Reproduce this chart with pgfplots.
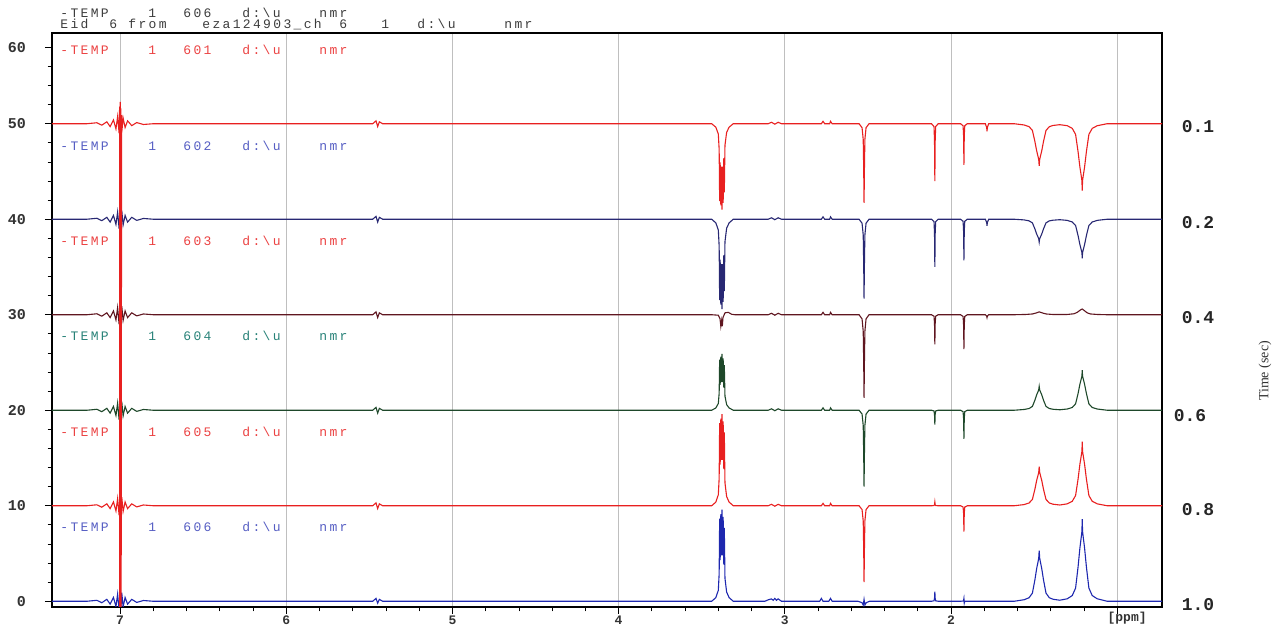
\documentclass[border=0pt]{standalone}
\usepackage{pgfplots}
\pgfplotsset{compat=1.18}
\usepackage{fontspec}
\setmainfont{Liberation Serif}
\setmonofont{Liberation Mono}
\newfontfamily\nmrfont[LetterSpace=18]{Liberation Mono}
\definecolor{cRed}{RGB}{232,32,32}
\definecolor{cNavy}{RGB}{40,40,115}
\definecolor{cMaroon}{RGB}{95,22,32}
\definecolor{cGreen}{RGB}{30,72,42}
\definecolor{cBlue}{RGB}{30,40,175}
\definecolor{cTeal}{RGB}{40,130,120}
\definecolor{cHead}{RGB}{60,60,60}
\newcommand{\lab}[1]{\makebox[44pt][l]{-TEMP}\makebox[17.5pt][l]{1}\makebox[29.5pt][l]{#1}\makebox[38.5pt][l]{d:\textbackslash u}nmr}
\newcommand{\ppmlab}{\raisebox{2.2pt}[\height][0pt]{\hspace*{10pt}[ppm]}}
\begin{document}
\begin{tikzpicture}
\begin{axis}[
  at={(0,0)}, anchor=south west,
  width=555pt, height=287pt, scale only axis,
  xmin=0.73, xmax=7.41, x dir=reverse,
  ymin=-0.6, ymax=59.5,
  clip mode=individual,
  axis line style={black, line width=0.6pt},
  tick pos=left, tick align=outside,
  major tick length=3.5pt, minor tick length=2.2pt,
  xtick={1,2,3,4,5,6,7}, xticklabels={\ppmlab,2,3,4,5,6,7},
  minor x tick num=4,
  ytick={0,10,20,30,40,50,58}, yticklabels={0,10,20,30,40,50,60},
  minor ytick={2,4,...,56},
  xmajorgrids=true,
  grid style={gray!50, line width=0.4pt},
  ticklabel style={font=\ttfamily\bfseries\fontsize{7.5}{8}\selectfont, text=black!80},
  xticklabel style={font=\ttfamily\bfseries\fontsize{6.5}{7}\selectfont, inner sep=0.8pt},
  yticklabel style={xshift=-6pt},
  every tick/.style={black, line width=0.4pt},
  every axis plot/.append style={line width=0.55pt, mark=none},
]
% row 1.0 (606) blue
\addplot[color=cBlue] coordinates {
(7.41,0) (7.20,0) (7.14,0.1) (7.11,-0.15) (7.08,0.2) (7.06,-0.3) (7.04,0.4) (7.025,-0.55) (7.015,0.75) (7.006,-1.0) (7.0,1.5) (6.997,-1.4) (6.99,0.9) (6.982,-0.6) (6.97,0.4) (6.955,-0.3) (6.93,0.2) (6.90,-0.12) (6.86,0.08) (6.80,0)
(5.48,0) (5.46,0.3) (5.45,-0.2) (5.44,0.2) (5.42,0)
(3.44,0) (3.415,0.38) (3.40,1.15) (3.395,2.88) (3.392,8.64) (3.389,4.32) (3.385,9.12) (3.382,4.8) (3.378,9.6) (3.374,4.8) (3.371,8.83) (3.367,3.84) (3.364,7.68) (3.36,2.4) (3.35,0.96) (3.335,0.38) (3.31,0)
(3.12,0) (3.10,0.15) (3.08,0.25) (3.07,0.1) (3.06,0.3) (3.05,0.1) (3.04,0.25) (3.02,0) (2.79,0) (2.78,0.3) (2.77,0) (2.735,0) (2.725,0.3) (2.715,0)
(2.56,0) (2.535,-0.15) (2.528,-0.4) (2.523,0.2) (2.518,-0.4) (2.51,-0.15) (2.49,0)
(2.117,0) (2.102,0.05) (2.099,0.3) (2.097,1.0) (2.095,0.3) (2.092,0.05) (2.077,0)
(1.942,0) (1.927,0.02) (1.924,0.1) (1.922,0.3) (1.920,-0.2) (1.917,0) (1.902,0)
(1.62,0) (1.56,0.16) (1.53,0.37) (1.51,0.85) (1.495,2.23) (1.484,3.45) (1.476,4.13) (1.472,4.51) (1.469,5.3) (1.466,4.51) (1.462,4.13) (1.454,3.45) (1.443,2.23) (1.428,0.85) (1.408,0.37) (1.385,0.21) (1.345,0.11)
(1.30,0.26) (1.27,0.6) (1.25,1.38) (1.235,3.61) (1.224,5.59) (1.216,6.71) (1.212,7.31) (1.21,8.6) (1.208,7.31) (1.204,6.71) (1.196,5.59) (1.185,3.61) (1.17,1.38) (1.15,0.6) (1.12,0.26) (1.06,0) (0.73,0)
};
% row 0.8 (605) red
\addplot[color=cRed] coordinates {
(7.41,10) (7.20,10) (7.14,10.1) (7.11,9.85) (7.08,10.2) (7.06,9.7) (7.04,10.4) (7.025,9.45) (7.015,10.75) (7.006,9.0) (7.0,11.5) (6.997,8.6) (6.99,10.9) (6.982,9.4) (6.97,10.4) (6.955,9.7) (6.93,10.2) (6.90,9.88) (6.86,10.08) (6.80,10)
(5.48,10) (5.46,10.3) (5.45,9.7) (5.44,10.2) (5.42,10)
(3.44,10) (3.415,10.38) (3.40,11.15) (3.395,12.88) (3.392,18.64) (3.389,14.32) (3.385,19.12) (3.382,14.8) (3.378,19.6) (3.374,14.8) (3.371,18.83) (3.367,13.84) (3.364,17.68) (3.36,12.4) (3.35,10.96) (3.335,10.38) (3.31,10)
(3.10,10) (3.08,10.15) (3.06,9.95) (3.04,10.15) (3.02,10) (2.78,10) (2.77,10.25) (2.76,10) (2.73,10) (2.725,10.25) (2.715,10)
(2.553,10) (2.535,9.6) (2.528,8.4) (2.525,5.2) (2.523,2) (2.521,5.2) (2.518,8.4) (2.511,9.6) (2.493,10)
(2.117,10) (2.102,10.02) (2.099,10.12) (2.097,10.4) (2.095,10.12) (2.092,10.02) (2.077,10)
(1.942,10) (1.927,9.865) (1.924,9.19) (1.922,7.3) (1.920,9.19) (1.917,9.865) (1.902,10)
(1.62,10) (1.56,10.12) (1.53,10.29) (1.51,10.66) (1.495,11.72) (1.484,12.67) (1.476,13.2) (1.472,13.49) (1.469,14.1) (1.466,13.49) (1.462,13.2) (1.454,12.67) (1.443,11.72) (1.428,10.66) (1.408,10.29) (1.385,10.16) (1.345,10.08)
(1.30,10.2) (1.27,10.47) (1.25,11.07) (1.235,12.81) (1.224,14.36) (1.216,15.23) (1.212,15.7) (1.21,16.7) (1.208,15.7) (1.204,15.23) (1.196,14.36) (1.185,12.81) (1.17,11.07) (1.15,10.47) (1.12,10.2) (1.06,10) (0.73,10)
};
% row 0.6 (604) dark green
\addplot[color=cGreen] coordinates {
(7.41,20) (7.20,20) (7.14,20.1) (7.11,19.85) (7.08,20.2) (7.06,19.7) (7.04,20.4) (7.025,19.45) (7.015,20.75) (7.006,19.0) (7.0,21.5) (6.997,18.6) (6.99,20.9) (6.982,19.4) (6.97,20.4) (6.955,19.7) (6.93,20.2) (6.90,19.88) (6.86,20.08) (6.80,20)
(5.48,20) (5.46,20.3) (5.45,19.7) (5.44,20.2) (5.42,20)
(3.44,20) (3.415,20.24) (3.40,20.71) (3.395,21.77) (3.392,25.31) (3.389,22.66) (3.385,25.61) (3.382,22.95) (3.378,25.9) (3.374,22.95) (3.371,25.43) (3.367,22.36) (3.364,24.72) (3.36,21.48) (3.35,20.59) (3.335,20.24) (3.31,20)
(3.10,20) (3.08,20.15) (3.06,19.95) (3.04,20.15) (3.02,20) (2.78,20) (2.77,20.25) (2.76,20) (2.73,20) (2.725,20.25) (2.715,20)
(2.553,20) (2.535,19.6) (2.528,18.4) (2.525,15.2) (2.523,12) (2.521,15.2) (2.518,18.4) (2.511,19.6) (2.493,20)
(2.117,20) (2.102,19.925) (2.099,19.55) (2.097,18.5) (2.095,19.55) (2.092,19.925) (2.077,20)
(1.942,20) (1.927,19.85) (1.924,19.1) (1.922,17) (1.920,19.1) (1.917,19.85) (1.902,20)
(1.62,20) (1.56,20.08) (1.53,20.18) (1.51,20.4) (1.495,21.05) (1.484,21.63) (1.476,21.95) (1.472,22.13) (1.469,22.5) (1.466,22.13) (1.462,21.95) (1.454,21.63) (1.443,21.05) (1.428,20.4) (1.408,20.18) (1.385,20.1) (1.345,20.05)
(1.30,20.13) (1.27,20.29) (1.25,20.67) (1.235,21.76) (1.224,22.73) (1.216,23.28) (1.212,23.57) (1.21,24.2) (1.208,23.57) (1.204,23.28) (1.196,22.73) (1.185,21.76) (1.17,20.67) (1.15,20.29) (1.12,20.13) (1.06,20) (0.73,20)
};
% row 0.4 (603) dark maroon
\addplot[color=cMaroon] coordinates {
(7.41,30) (7.20,30) (7.14,30.1) (7.11,29.85) (7.08,30.2) (7.06,29.7) (7.04,30.4) (7.025,29.45) (7.015,30.75) (7.006,29.0) (7.0,31.5) (6.997,28.6) (6.99,30.9) (6.982,29.4) (6.97,30.4) (6.955,29.7) (6.93,30.2) (6.90,29.88) (6.86,30.08) (6.80,30)
(5.48,30) (5.46,30.3) (5.45,29.7) (5.44,30.2) (5.42,30)
(3.44,30) (3.40,29.95) (3.39,29.6) (3.385,28.8) (3.38,29.4) (3.376,28.8) (3.372,29.7) (3.36,30.2) (3.34,30.25) (3.32,30.05) (3.30,30)
(3.10,30) (3.08,30.15) (3.06,29.95) (3.04,30.15) (3.02,30) (2.78,30) (2.77,30.25) (2.76,30) (2.73,30) (2.725,30.25) (2.715,30)
(2.553,30) (2.535,29.565) (2.528,28.26) (2.525,24.78) (2.523,21.3) (2.521,24.78) (2.518,28.26) (2.511,29.565) (2.493,30)
(2.117,30) (2.102,29.845) (2.099,29.07) (2.097,26.9) (2.095,29.07) (2.092,29.845) (2.077,30)
(1.942,30) (1.927,29.82) (1.924,28.92) (1.922,26.4) (1.920,28.92) (1.917,29.82) (1.902,30)
(1.793,30) (1.785,29.85) (1.783,29.7) (1.781,29.85) (1.773,30)
(1.62,30) (1.55,30.03) (1.51,30.08) (1.49,30.17) (1.475,30.26) (1.469,30.3) (1.462,30.26) (1.447,30.17) (1.427,30.08) (1.39,30.03) (1.345,30.02)
(1.30,30.03) (1.26,30.1) (1.24,30.25) (1.225,30.45) (1.215,30.56) (1.21,30.6) (1.204,30.52) (1.195,30.4) (1.18,30.2) (1.16,30.08) (1.12,30.03) (1.06,30) (0.73,30)
};
% row 0.2 (602) navy
\addplot[color=cNavy] coordinates {
(7.41,40) (7.20,40) (7.14,40.1) (7.11,39.85) (7.08,40.2) (7.06,39.7) (7.04,40.4) (7.025,39.45) (7.015,40.75) (7.006,39.0) (7.0,41.5) (6.997,38.6) (6.99,40.9) (6.982,39.4) (6.97,40.4) (6.955,39.7) (6.93,40.2) (6.90,39.88) (6.86,40.08) (6.80,40)
(5.48,40) (5.46,40.3) (5.45,39.7) (5.44,40.2) (5.42,40)
(3.44,40) (3.415,39.62) (3.40,38.87) (3.395,37.18) (3.392,31.54) (3.389,35.77) (3.385,31.07) (3.382,35.3) (3.378,30.6) (3.374,35.3) (3.371,31.35) (3.367,36.24) (3.364,32.48) (3.36,37.65) (3.35,39.06) (3.335,39.62) (3.31,40)
(3.10,40) (3.08,40.15) (3.06,39.95) (3.04,40.15) (3.02,40) (2.78,40) (2.77,40.25) (2.76,40) (2.73,40) (2.725,40.25) (2.715,40)
(2.553,40) (2.535,39.585) (2.528,38.34) (2.525,35.02) (2.523,31.7) (2.521,35.02) (2.518,38.34) (2.511,39.585) (2.493,40)
(2.117,40) (2.102,39.75) (2.099,38.5) (2.097,35) (2.095,38.5) (2.092,39.75) (2.077,40)
(1.942,40) (1.927,39.785) (1.924,38.71) (1.922,35.7) (1.920,38.71) (1.917,39.785) (1.902,40)
(1.793,40) (1.785,39.65) (1.783,39.3) (1.781,39.65) (1.773,40)
(1.62,40) (1.56,39.93) (1.53,39.83) (1.51,39.62) (1.495,38.99) (1.484,38.44) (1.476,38.13) (1.472,37.96) (1.469,37.6) (1.466,37.96) (1.462,38.13) (1.454,38.44) (1.443,38.99) (1.428,39.62) (1.408,39.83) (1.385,39.9) (1.345,39.95)
(1.30,39.88) (1.27,39.71) (1.25,39.34) (1.235,38.28) (1.224,37.34) (1.216,36.8) (1.212,36.52) (1.21,35.9) (1.208,36.52) (1.204,36.8) (1.196,37.34) (1.185,38.28) (1.17,39.34) (1.15,39.71) (1.12,39.88) (1.06,40) (0.73,40)
};
% row 0.1 (601) red
\addplot[color=cRed] coordinates {
(7.41,50) (7.20,50) (7.14,50.1) (7.11,49.85) (7.08,50.2) (7.06,49.7) (7.04,50.4) (7.025,49.45) (7.015,50.75) (7.006,49.0) (7.003,51.8) (7.002,-5) (6.999,52.3) (6.998,-5) (6.995,51.6) (6.994,-5) (6.991,50.9) (6.99,49.1) (6.982,50.6) (6.97,49.6) (6.955,50.3) (6.93,49.8) (6.90,50.12) (6.86,49.92) (6.80,50)
(5.48,50) (5.46,50.3) (5.45,49.7) (5.44,50.2) (5.42,50)
(3.44,50) (3.415,49.64) (3.40,48.92) (3.395,47.3) (3.392,41.9) (3.389,45.95) (3.385,41.45) (3.382,45.5) (3.378,41.0) (3.374,45.5) (3.371,41.72) (3.367,46.4) (3.364,42.8) (3.36,47.75) (3.35,49.1) (3.335,49.64) (3.31,50)
(3.10,50) (3.08,50.15) (3.06,49.95) (3.04,50.15) (3.02,50) (2.78,50) (2.77,50.25) (2.76,50) (2.73,50) (2.725,50.25) (2.715,50)
(2.553,50) (2.535,49.585) (2.528,48.34) (2.525,45.02) (2.523,41.7) (2.521,45.02) (2.518,48.34) (2.511,49.585) (2.493,50)
(2.117,50) (2.102,49.7) (2.099,48.2) (2.097,44) (2.095,48.2) (2.092,49.7) (2.077,50)
(1.942,50) (1.927,49.785) (1.924,48.71) (1.922,45.7) (1.920,48.71) (1.917,49.785) (1.902,50)
(1.793,50) (1.785,49.6) (1.783,49.2) (1.781,49.6) (1.773,50)
(1.62,50) (1.56,49.87) (1.53,49.69) (1.51,49.3) (1.495,48.15) (1.484,47.14) (1.476,46.57) (1.472,46.26) (1.469,45.6) (1.466,46.26) (1.462,46.57) (1.454,47.14) (1.443,48.15) (1.428,49.3) (1.408,49.69) (1.385,49.82) (1.345,49.9)
(1.30,49.79) (1.27,49.51) (1.25,48.88) (1.235,47.06) (1.224,45.45) (1.216,44.54) (1.212,44.05) (1.21,43) (1.208,44.05) (1.204,44.54) (1.196,45.45) (1.185,47.06) (1.17,48.88) (1.15,49.51) (1.12,49.79) (1.06,50) (0.73,50)
};
\end{axis}
% header lines
\node[anchor=west, inner sep=0pt, text=cHead, font=\nmrfont\fontsize{6.5}{7}\selectfont] at (4pt,297pt) {\lab{606}};
\node[anchor=west, inner sep=0pt, text=cHead, font=\nmrfont\fontsize{6.5}{7}\selectfont] at (4pt,291pt) {\makebox[24.5pt][l]{Eid}\makebox[9.5pt][l]{6}\makebox[37pt][l]{from}\makebox[68.5pt][l]{eza124903\_ch}\makebox[21pt][l]{6}\makebox[18pt][l]{1}\makebox[43.5pt][l]{d:\textbackslash u}nmr};
% spectrum labels
\node[anchor=west, inner sep=0pt, text=cRed!85, font=\nmrfont\fontsize{6.5}{7}\selectfont] at (4pt,278.6pt) {\lab{601}};
\node[anchor=west, inner sep=0pt, text=cBlue!75, font=\nmrfont\fontsize{6.5}{7}\selectfont] at (4pt,230.7pt) {\lab{602}};
\node[anchor=west, inner sep=0pt, text=cRed!85, font=\nmrfont\fontsize{6.5}{7}\selectfont] at (4pt,183.3pt) {\lab{603}};
\node[anchor=west, inner sep=0pt, text=cTeal, font=\nmrfont\fontsize{6.5}{7}\selectfont] at (4pt,135.4pt) {\lab{604}};
\node[anchor=west, inner sep=0pt, text=cRed!85, font=\nmrfont\fontsize{6.5}{7}\selectfont] at (4pt,87.4pt) {\lab{605}};
\node[anchor=west, inner sep=0pt, text=cBlue!75, font=\nmrfont\fontsize{6.5}{7}\selectfont] at (4pt,40pt) {\lab{606}};
% right time labels
\begin{scope}[every node/.style={font=\ttfamily\bfseries\fontsize{9}{10}\selectfont, text=black!85, inner sep=0pt}]
\node at (573pt,240.1pt) {0.1};
\node at (573pt,192.2pt) {0.2};
\node at (573pt,144.7pt) {0.4};
\node at (569pt,95.8pt) {0.6};
\node at (573pt,48.9pt) {0.8};
\node at (573pt,1pt) {1.0};
\end{scope}
\node[rotate=90, font=\fontsize{7}{8}\selectfont, text=black!80] at (606.5pt,118pt) {Time (sec)};
\pgfresetboundingbox
\path[use as bounding box] (-26pt,-9pt) rectangle (613.5pt,303.5pt);
\end{tikzpicture}
\end{document}
